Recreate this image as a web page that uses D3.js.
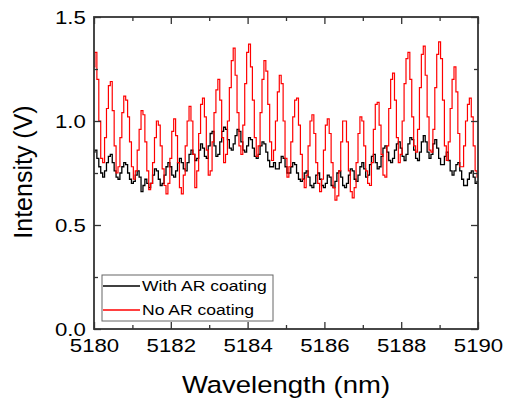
<!DOCTYPE html>
<html>
<head>
<meta charset="utf-8">
<script src="https://cdn.jsdelivr.net/npm/d3@7"></script>
<style>
  body { margin: 0; background: #fff; }
  text { font-family: "Liberation Sans", Arial, sans-serif; fill: #000; }
</style>
</head>
<body>
<div id="chart"></div>
<script>
// wavelength grid: 5180 to 5190 nm, step 0.05 nm
var x0 = 5180, dx = 0.05;

var withAR = [
  0.85,0.86,0.82,0.78,0.75,0.73,0.76,0.80,0.83,0.84,
  0.80,0.76,0.73,0.72,0.75,0.78,0.80,0.79,0.75,0.72,
  0.70,0.71,0.74,0.76,0.73,0.66,0.69,0.72,0.70,0.68,
  0.70,0.74,0.77,0.76,0.72,0.69,0.70,0.74,0.78,0.80,
  0.78,0.74,0.73,0.76,0.80,0.82,0.80,0.77,0.76,0.80,
  0.84,0.86,0.84,0.81,0.82,0.86,0.89,0.87,0.83,0.82,
  0.88,0.94,0.95,0.88,0.83,0.84,0.90,0.95,0.97,0.96,
  0.91,0.87,0.86,0.89,0.93,0.96,0.95,0.90,0.86,0.85,
  0.88,0.92,0.91,0.87,0.83,0.82,0.84,0.88,0.90,0.89,
  0.85,0.81,0.78,0.78,0.80,0.77,0.77,0.80,0.83,0.82,
  0.78,0.75,0.75,0.78,0.80,0.79,0.75,0.72,0.71,0.72,
  0.75,0.76,0.73,0.69,0.68,0.70,0.74,0.75,0.72,0.69,
  0.68,0.70,0.74,0.73,0.69,0.68,0.71,0.75,0.76,0.73,
  0.69,0.68,0.70,0.74,0.77,0.76,0.72,0.71,0.74,0.78,
  0.80,0.77,0.73,0.74,0.79,0.83,0.84,0.80,0.77,0.78,
  0.83,0.87,0.88,0.85,0.81,0.80,0.82,0.86,0.89,0.90,
  0.87,0.83,0.81,0.84,0.89,0.92,0.91,0.86,0.82,0.81,
  0.85,0.90,0.93,0.90,0.85,0.82,0.84,0.89,0.91,0.87,
  0.82,0.79,0.79,0.83,0.85,0.81,0.76,0.74,0.76,0.79,
  0.80,0.76,0.72,0.69,0.69,0.72,0.75,0.76,0.73,0.70,
  0.71
];

var noAR = [
  1.26,1.33,1.20,1.00,0.82,0.80,0.92,1.06,1.17,1.19,
  1.05,0.88,0.75,0.78,0.92,1.04,1.12,1.10,1.02,0.90,
  0.78,0.72,0.76,0.86,0.96,1.05,1.03,0.90,0.76,0.67,
  0.70,0.80,0.92,1.00,0.98,0.88,0.77,0.69,0.65,0.70,
  0.82,0.95,1.01,0.93,0.80,0.68,0.65,0.74,0.88,1.00,
  1.07,1.00,0.84,0.68,0.76,0.94,1.08,1.11,1.02,0.86,
  0.74,0.76,0.90,1.04,1.15,1.20,1.10,0.92,0.80,0.84,
  1.00,1.16,1.29,1.35,1.22,1.04,0.88,0.84,0.98,1.18,
  1.33,1.37,1.26,1.10,0.92,0.83,0.88,1.04,1.20,1.29,
  1.24,1.08,0.90,0.81,0.86,1.00,1.14,1.22,1.18,1.00,
  0.82,0.73,0.78,0.90,1.02,1.10,1.11,0.98,0.84,0.72,
  0.68,0.74,0.88,1.00,1.03,0.94,0.80,0.70,0.66,0.72,
  0.86,0.98,1.01,0.94,0.80,0.68,0.62,0.64,0.76,0.90,
  1.00,1.00,0.90,0.76,0.66,0.63,0.68,0.80,0.94,1.02,
  1.00,0.88,0.76,0.70,0.69,0.80,0.96,1.08,1.09,0.98,
  0.84,0.74,0.73,0.88,1.06,1.20,1.23,1.10,0.92,0.80,
  0.84,1.00,1.18,1.30,1.33,1.20,1.02,0.88,0.85,0.96,
  1.16,1.32,1.36,1.22,1.02,0.86,0.85,0.96,1.16,1.32,
  1.38,1.30,1.10,0.88,0.81,0.90,1.06,1.20,1.26,1.14,
  0.94,0.78,0.78,0.88,1.00,1.08,1.11,1.02,0.88,0.76,
  0.73
];

var xTicks = [5180, 5182, 5184, 5186, 5188, 5190];
var xMinor = [5181, 5183, 5185, 5187, 5189];
var yTicks = [0, 0.5, 1.0, 1.5];
var yMinor = [0.25, 0.75, 1.25];
var seriesNames = ["With AR coating", "No AR coating"];
var seriesColors = ["#000000", "#ff0000"];

var W = 507, H = 402;
var pL = 94, pR = 478, pT = 17, pB = 329;
var sx = 1.17; // picture is stretched sideways a bit

var svg = d3.select("#chart")
  .append("svg")
  .attr("width", W)
  .attr("height", H);

var x = d3.scaleLinear().domain([5180, 5190]).range([pL, pR]);
var y = d3.scaleLinear().domain([0, 1.5]).range([pB, pT]);

svg.append("clipPath").attr("id", "clip")
  .append("rect")
  .attr("x", pL).attr("y", pT)
  .attr("width", pR - pL).attr("height", pB - pT);

var line = d3.line()
  .x(function(d, i) { return x(x0 + i * dx); })
  .y(function(d) { return y(d); })
  .curve(d3.curveStep);

var plot = svg.append("g").attr("clip-path", "url(#clip)");

plot.append("path")
  .datum(withAR)
  .attr("d", line)
  .attr("fill", "none")
  .attr("stroke", seriesColors[0])
  .attr("stroke-width", 1.3);

plot.append("path")
  .datum(noAR)
  .attr("d", line)
  .attr("fill", "none")
  .attr("stroke", seriesColors[1])
  .attr("stroke-width", 1.2);

// ticks, all pointing inwards
function styleAxis(g) {
  g.select(".domain").remove();
  g.selectAll("line").attr("stroke", "#333").attr("stroke-width", 1.3);
}

var bottomAx = svg.append("g")
  .attr("transform", "translate(0," + pB + ")")
  .call(d3.axisBottom(x).tickValues(xTicks).tickSize(-7).tickPadding(10).tickFormat(d3.format("d")));
bottomAx.call(styleAxis);
bottomAx.selectAll("text")
  .attr("font-size", 19)
  .attr("transform", "scale(" + sx + ",1)");

svg.append("g")
  .attr("transform", "translate(0," + pB + ")")
  .call(d3.axisBottom(x).tickValues(xMinor).tickSize(-4).tickFormat(""))
  .call(styleAxis);

svg.append("g")
  .attr("transform", "translate(0," + pT + ")")
  .call(d3.axisTop(x).tickValues(xTicks).tickSize(-7).tickFormat(""))
  .call(styleAxis);
svg.append("g")
  .attr("transform", "translate(0," + pT + ")")
  .call(d3.axisTop(x).tickValues(xMinor).tickSize(-4).tickFormat(""))
  .call(styleAxis);

var leftAx = svg.append("g")
  .attr("transform", "translate(" + pL + ",0)")
  .call(d3.axisLeft(y).tickValues(yTicks).tickSize(-7).tickPadding(7).tickFormat(d3.format(".1f")));
leftAx.call(styleAxis);
leftAx.selectAll("text")
  .attr("font-size", 19)
  .attr("transform", "scale(" + sx + ",1)");

svg.append("g")
  .attr("transform", "translate(" + pL + ",0)")
  .call(d3.axisLeft(y).tickValues(yMinor).tickSize(-4).tickFormat(""))
  .call(styleAxis);

svg.append("g")
  .attr("transform", "translate(" + pR + ",0)")
  .call(d3.axisRight(y).tickValues(yTicks).tickSize(-7).tickFormat(""))
  .call(styleAxis);
svg.append("g")
  .attr("transform", "translate(" + pR + ",0)")
  .call(d3.axisRight(y).tickValues(yMinor).tickSize(-4).tickFormat(""))
  .call(styleAxis);

// frame
svg.append("rect")
  .attr("x", pL).attr("y", pT)
  .attr("width", pR - pL).attr("height", pB - pT)
  .attr("fill", "none")
  .attr("stroke", "#333")
  .attr("stroke-width", 1.8);

// axis titles
svg.append("g")
  .attr("transform", "translate(" + ((pL + pR) / 2) + ",393)")
  .append("text")
  .attr("text-anchor", "middle")
  .attr("font-size", 23.5)
  .attr("transform", "scale(" + sx + ",1)")
  .text("Wavelength (nm)");

svg.append("g")
  .attr("transform", "translate(32,172) rotate(-90)")
  .append("text")
  .attr("text-anchor", "middle")
  .attr("font-size", 25)
  .text("Intensity (V)");

// legend
var lg = svg.append("g");
lg.append("rect")
  .attr("x", 102).attr("y", 275)
  .attr("width", 171).attr("height", 46)
  .attr("fill", "#fff")
  .attr("stroke", "#666")
  .attr("stroke-width", 1);

seriesNames.forEach(function(name, i) {
  var ly = 286 + i * 24;
  lg.append("line")
    .attr("x1", 103).attr("x2", 140)
    .attr("y1", ly).attr("y2", ly)
    .attr("stroke", seriesColors[i])
    .attr("stroke-width", 1.3);
  lg.append("g")
    .attr("transform", "translate(142," + (ly + 5) + ")")
    .append("text")
    .attr("font-size", 15)
    .attr("transform", "scale(" + sx + ",1)")
    .text(name);
});
</script>
</body>
</html>
